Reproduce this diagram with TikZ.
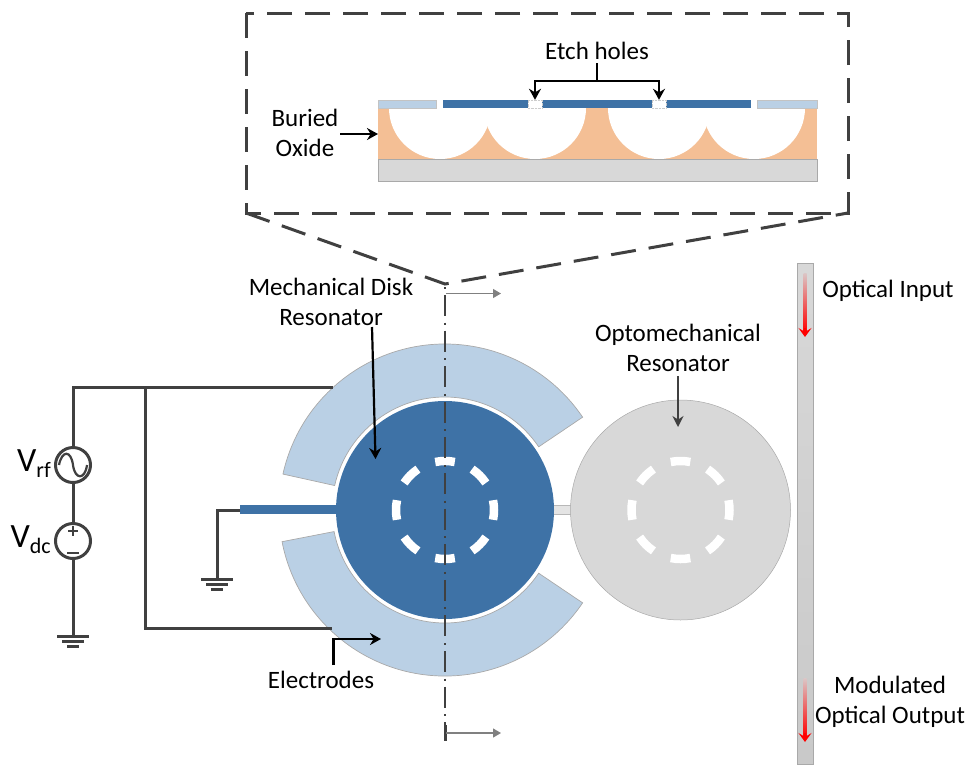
\documentclass[tikz,border=0pt]{standalone}
\usepackage{fontspec}
\setmainfont{Carlito}
\usetikzlibrary{arrows.meta}
\definecolor{wire}{HTML}{404040}
\definecolor{diskblue}{HTML}{3E72A6}
\definecolor{elecblue}{HTML}{BAD0E5}
\definecolor{oxide}{HTML}{F4BF95}
\definecolor{silicon}{HTML}{D8D8D8}
\definecolor{edgegray}{HTML}{A9A9A9}
\tikzset{
	wireline/.style={draw=wire, line width=3pt},
	zoomline/.style={draw=wire, line width=3pt, dash pattern=on 25pt off 13pt},
	callout/.style={draw=black, line width=2.2pt, -{Stealth[length=11pt, width=12pt]}},
	darkcallout/.style={draw=wire, line width=2pt, -{Stealth[length=11pt, width=11pt]}},
	label/.style={font=\fontsize{25}{30}\selectfont, align=center, text=black},
	sectionarrow/.style={draw=gray, line width=1.2pt, -{Stealth[length=8pt, width=9pt, inset=0pt]}},
	electrode/.style={fill=elecblue, draw=edgegray, line width=.7pt},
	etchmark/.style={draw=white, line width=8.5pt},
	source/.style={circle, draw=wire, line width=3pt, minimum size=35pt, inner sep=0pt, fill=white},
	groundbar/.style={draw=wire, line width=3pt},
	redarrow/.style={draw=red, line width=2pt, -{Stealth[length=9pt, width=13pt, inset=4pt]}},
	etchhole/.style={fill=white, draw=gray!40, densely dotted, line width=.4pt, minimum width=14.5pt, minimum height=8pt, inner sep=0pt}
}
\newcommand{\Vlabel}[1]{{\fontsize{34}{34}\selectfont V}{\fontsize{22}{22}\selectfont\raisebox{-6pt}{#1}}}
\begin{document}
\begin{tikzpicture}[x=1pt, y=-1pt]
	\useasboundingbox (0, 0) rectangle (969, 764);

	% waveguide
	\shade[top color=silicon, bottom color=silicon!93!black, draw=edgegray, line width=.7pt] (797.5, 263.5) rectangle (813.5, 764);
	\shade[top color=red!8!silicon, bottom color=red] (803.5, 273) rectangle (806.5, 332);
	\shade[top color=red!8!silicon, bottom color=red] (803.5, 678) rectangle (806.5, 737);
	\coordinate (inputtop) at (805, 328);
	\coordinate (inputend) at (805, 337);
	\coordinate (outputtop) at (805, 733);
	\coordinate (outputend) at (805, 742);
	\draw[redarrow] (inputtop) -- (inputend);
	\draw[redarrow] (outputtop) -- (outputend);

	% electrodes
	\path[electrode, shift={(445, 510)}] (-34:113) arc[start angle=-34, end angle=-167.5, radius=113]
		-- (-167.5:166) arc[start angle=-167.5, end angle=-34, radius=166] -- cycle;
	\path[electrode, shift={(445, 510)}] (34:113) arc[start angle=34, end angle=169, radius=113]
		-- (169:166) arc[start angle=169, end angle=34, radius=166] -- cycle;

	% anchors
	\fill[diskblue] (240, 505) rectangle (340, 514);
	\fill[silicon!70!white, draw=silicon!85!black, line width=.5pt] (550, 505) rectangle (575, 514);

	% disks
	\node[circle, fill=diskblue, minimum size=218pt, inner sep=0pt] (mechdisk) at (445, 510) {};
	\node[circle, fill=silicon, draw=edgegray, line width=.5pt, minimum size=220pt, inner sep=0pt] (optodisk) at (680.5, 510) {};
	\foreach \cx in {445, 680.5} {
		\foreach \a in {0, 45, ..., 315} {
			\draw[etchmark] (\cx, 510) ++(\a-11.5:49) arc[start angle=\a-11.5, end angle=\a+11.5, radius=49];
		}
	}

	% center line
	\coordinate (axistop) at (445, 287);
	\coordinate (axisbot) at (445, 741);
	\draw[draw=wire, line width=1.5pt, dash pattern=on 2pt off 6pt on 21pt off 6.6pt] (axistop) -- (axisbot);
	\coordinate (secttop) at (446, 293.5);
	\coordinate (secttopend) at (501, 293.5);
	\coordinate (sectbot) at (446, 733);
	\coordinate (sectbotend) at (501, 733);
	\coordinate (ticktop) at (446, 725);
	\coordinate (tickbot) at (446, 741);
	\draw[draw=wire, line width=2pt] (ticktop) -- (tickbot);
	\draw[sectionarrow] (secttop) -- (secttopend);
	\draw[sectionarrow] (sectbot) -- (sectbotend);

	% zoom box
	\coordinate (zoomnw) at (246, 13);
	\coordinate (zoomse) at (848, 213);
	\coordinate (zoomsw) at (246, 213);
	\coordinate (zoomapex) at (445, 284);
	\draw[zoomline] (zoomnw) rectangle (zoomse);
	\draw[zoomline] (zoomsw) -- (zoomapex) -- (zoomse);

	% cross section
	\fill[silicon, draw=edgegray, line width=.7pt] (378, 159) rectangle (817, 181);
	\fill[oxide] (378, 108) rectangle (817, 159);
	\foreach \cx in {440, 535, 659, 754} {
		\fill[white] (\cx-51, 108) arc[start angle=180, end angle=0, radius=51] -- cycle;
	}
	\fill[elecblue, draw=edgegray!70!white, line width=.4pt] (378, 100) rectangle (436.5, 108);
	\fill[diskblue] (443, 100) rectangle (750.5, 108);
	\fill[elecblue, draw=edgegray!70!white, line width=.4pt] (757.5, 100) rectangle (817, 108);
	\node[etchhole] (holeleft) at (535, 104) {};
	\node[etchhole] (holeright) at (659, 104) {};

	% cross section labels
	\node[label] (etchlabel) at (597, 51) {Etch holes};
	\coordinate (etchsplit) at (597, 81);
	\draw[line width=2.2pt] (etchlabel.south) -- (etchsplit);
	\draw[callout] (etchsplit) -| (holeleft.north);
	\draw[callout] (etchsplit) -| (holeright.north);
	\node[label] (oxidelabel) at (305, 133) {Buried\\Oxide};
	\coordinate (oxidefrom) at (340, 134);
	\coordinate (oxideto) at (378, 134);
	\draw[callout] (oxidefrom) -- (oxideto);

	% disk labels
	\node[label] (mechlabel) at (331, 302) {Mechanical Disk\\Resonator};
	\coordinate (mechfrom) at (372, 327);
	\coordinate (mechto) at (375.5, 459);
	\draw[callout] (mechfrom) -- (mechto);
	\node[label] (optolabel) at (678, 348) {Optomechanical\\Resonator};
	\coordinate (optofrom) at (678, 376);
	\coordinate (optoto) at (678, 427);
	\draw[darkcallout] (optofrom) -- (optoto);
	\node[label] (eleclabel) at (321, 680) {Electrodes};
	\coordinate (elecfrom) at (333.5, 665);
	\coordinate (eleccorner) at (333.5, 639);
	\coordinate (electo) at (381, 639);
	\draw[callout] (elecfrom) -- (eleccorner) -- (electo);
	\node[label] (inputlabel) at (888, 291) {Optical Input};
	\node[label] (outputlabel) at (890, 702) {Modulated\\Optical Output};

	% circuit
	\node[source] (vrf) at (73, 465) {};
	\node[source] (vdc) at (73, 541) {};
	\node[label, anchor=east, inner sep=0pt] (vrflabel) at (51, 464) {\Vlabel{rf}};
	\node[label, anchor=east, inner sep=0pt] (vdclabel) at (51, 540) {\Vlabel{dc}};
	\draw[wire, line width=2.2pt] (59, 465) .. controls (62, 450) and (71, 450) .. (73, 465)
		.. controls (75, 480) and (85, 480) .. (87, 465);
	\draw[wire, line width=2.2pt] (68, 531) -- (78, 531) (73, 526) -- (73, 536) (67, 553) -- (79, 553);
	\coordinate (feedcorner) at (73, 387);
	\coordinate (feedtop) at (333, 387);
	\coordinate (feedsplit) at (145, 387);
	\coordinate (feedlow) at (145, 628);
	\coordinate (feedend) at (332, 628);
	\coordinate (gndone) at (73, 636);
	\coordinate (anchorend) at (240, 510);
	\coordinate (gndcorner) at (217, 510);
	\coordinate (gndtwo) at (217, 579);
	\draw[wireline] (vrf.north) -- (feedcorner) -- (feedtop);
	\draw[wireline] (feedsplit) -- (feedlow) -- (feedend);
	\draw[wireline] (vrf.south) -- (vdc.north);
	\draw[wireline] (vdc.south) -- (gndone);
	\draw[wireline] (anchorend) -- (gndcorner) -- (gndtwo);
	\foreach \gx/\gy in {73/636, 217/579} {
		\draw[groundbar] (\gx-16, \gy) -- (\gx+16, \gy);
		\draw[groundbar] (\gx-11, \gy+5) -- (\gx+11, \gy+5);
		\draw[groundbar] (\gx-6, \gy+10) -- (\gx+6, \gy+10);
	}
\end{tikzpicture}
\end{document}
